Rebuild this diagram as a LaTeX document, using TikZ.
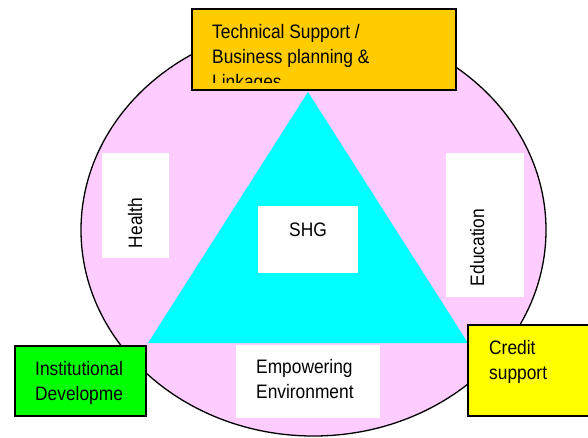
\documentclass[tikz,border=0pt]{standalone}
\usepackage{fontspec}
\setmainfont{Liberation Sans}[FakeStretch=0.89]

\definecolor{pinkbg}{RGB}{255,204,255}
\definecolor{tribg}{RGB}{0,255,255}
\definecolor{orangebox}{RGB}{255,204,0}
\definecolor{greenbox}{RGB}{0,255,0}
\definecolor{yellowbox}{RGB}{255,255,0}

\tikzset{
  box/.style = {rectangle,draw,line width=1.8pt,inner sep=0pt},
  blank/.style = {rectangle,fill=white,inner sep=0pt},
  txt/.style = {inner sep=0pt,align=left,font=\fontsize{19.5pt}{25pt}\selectfont}
}

\begin{document}
\begin{tikzpicture}[x=1pt,y=-1pt]

            % \draw [help lines] (0,0) grid (588,437);
            \useasboundingbox (0,0) rectangle (588,437);
            \clip (0,0) rectangle (588,437);

            \draw [fill=pinkbg,line width=1.3pt] (313.5,230) ellipse [x radius=232.5pt, y radius=206pt];

            \path   (308,92)  coordinate (apex)
                    (148,343) coordinate (left)
                    (468,343) coordinate (right);
            \fill [tribg] (apex) -- (left) -- (right) -- cycle;

            \path   (135.5,205.5) node (health) [blank,minimum width=67pt,minimum height=105pt] {}
                    (485,225)     node (educ)   [blank,minimum width=78pt,minimum height=144pt] {}
                    (308,239.5)   node (shg)    [blank,minimum width=100pt,minimum height=67pt] {}
                    (308,381.5)   node (env)    [blank,minimum width=144pt,minimum height=73pt] {};

            \path   (324,49.5)  node (tech)   [box,fill=orangebox,minimum width=264pt,minimum height=81pt] {}
                    (80.5,381)  node (inst)   [box,fill=greenbox,minimum width=131pt,minimum height=70pt] {}
                    (531,370.5) node (credit) [box,fill=yellowbox,minimum width=126pt,minimum height=91pt] {};

            \node [txt,rotate=90,anchor=base] (healthtext) at (142,223) {Health};
            \node [txt,rotate=90,anchor=base] (eductext) at (484,247.5) {Education};
            \node [txt,anchor=base] (shgtext) at (308,236) {SHG};

            \node [txt,anchor=north west] (envtext) at (256,359)
            {
            Empowering\\Environment
            };

            \node [txt,anchor=north west] (insttext) at (35,361)
            {
            Institutional\\Developme
            };

            \node [txt,anchor=north west] (credittext) at (489,340)
            {
            Credit\\support
            };

            \begin{scope}
            \clip (191,8) rectangle (457,82);
            \node [txt,anchor=north west] (techtext) at (212,24)
            {
            Technical Support /\\Business planning \&\\Linkages
            };
            \end{scope}

\end{tikzpicture}
\end{document}
